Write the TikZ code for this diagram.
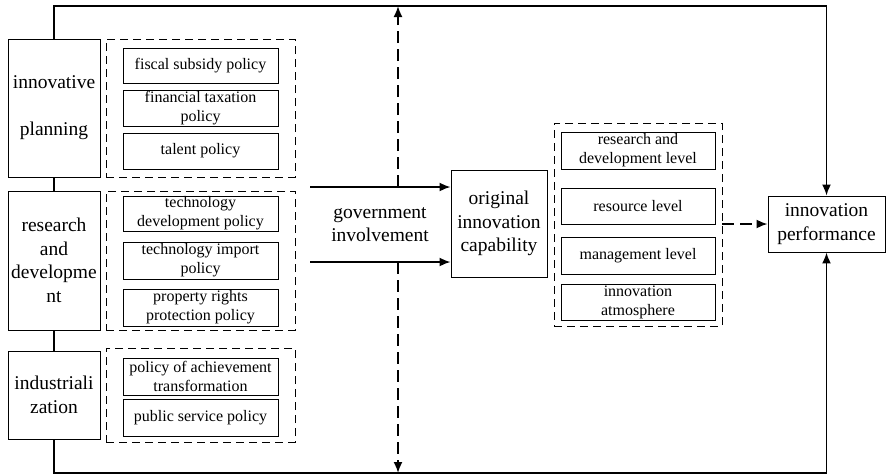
\documentclass[tikz,border=0pt]{standalone}
\usepackage{fontspec}
\setmainfont{Liberation Serif}
\usetikzlibrary{arrows.meta}
\begin{document}
\begin{tikzpicture}[x=1pt,y=-1pt,
  bigtext/.style={font=\fontsize{19.5}{23.5}\selectfont, align=center},
  smalltext/.style={font=\fontsize{16}{19}\selectfont, align=center},
  stage/.style={draw, line width=0.9pt, inner sep=0pt, minimum width=92pt, bigtext},
  policy/.style={draw, line width=0.9pt, inner sep=0pt, minimum width=155pt, minimum height=36pt, smalltext},
  level/.style={draw, line width=0.9pt, inner sep=0pt, minimum width=154pt, minimum height=36pt, smalltext},
  group/.style={draw, line width=0.9pt, dash pattern=on 8pt off 5pt, inner sep=0pt},
  link/.style={line width=1.8pt},
  flow/.style={line width=1.8pt, -{Latex[length=11pt,width=9pt]}},
  dflow/.style={line width=1.8pt, dash pattern=on 12pt off 6pt, -{Latex[length=11pt,width=9pt]}}]
\useasboundingbox (0,0) rectangle (886,475);

% policy stages
\node[stage, minimum height=138pt] (ip) at (54,108) {innovative\\[23.5pt]planning};
\node[stage, minimum height=139pt] (rd) at (54,260.5) {research\\and\\developme\\nt};
\node[stage, minimum height=88pt] (ind) at (54,395) {industriali\\zation};

% policy groups
\node[group, minimum width=189pt, minimum height=138pt] (g1) at (200.5,108) {};
\node[group, minimum width=189pt, minimum height=139pt] (g2) at (200.5,260.5) {};
\node[group, minimum width=189pt, minimum height=94pt] (g3) at (200.5,395) {};

\node[policy, minimum height=35pt] (p1) at (200.5,65.5) {fiscal subsidy policy};
\node[policy] (p2) at (200.5,108) {financial taxation\\policy};
\node[policy] (p3) at (200.5,151) {talent policy};
\node[policy, minimum height=35pt] (p4) at (200.5,213.5) {technology\\development policy};
\node[policy, minimum height=37pt] (p5) at (200.5,260.5) {technology import\\policy};
\node[policy, minimum height=37pt] (p6) at (200.5,307.5) {property rights\\protection policy};
\node[policy, minimum height=37pt] (p7) at (200.5,376.5) {policy of achievement\\transformation};
\node[policy, minimum height=37pt] (p8) at (200.5,417.5) {public service policy};

% government involvement
\node[bigtext] (gov) at (380,224.5) {government\\involvement};
\coordinate (a1s) at (310,187);
\coordinate (a2s) at (310,262);

% original innovation capability
\node[draw, line width=0.9pt, inner sep=0pt, minimum width=96pt, minimum height=107pt, bigtext] (oic) at (499,223.5) {original\\innovation\\capability};

\draw[flow] (a1s) -- (a1s -| oic.west);
\draw[flow] (a2s) -- (a2s -| oic.west);

% capability levels
\node[group, minimum width=168pt, minimum height=203pt] (g4) at (638,224.5) {};
\node[level, minimum height=37pt] (l1) at (638,150.5) {research and\\development level};
\node[level] (l2) at (638,206) {resource level};
\node[level, minimum height=37pt] (l3) at (638,255.5) {management level};
\node[level] (l4) at (638,302) {innovation\\atmosphere};

% innovation performance
\node[draw, line width=0.9pt, inner sep=0pt, minimum width=117pt, minimum height=56pt, bigtext] (perf) at (826.5,224) {innovation\\performance};

\draw[dflow] (g4.east |- perf.west) -- (perf.west);

% stage links
\draw[link] (ip.south) -- (rd.north);
\draw[link] (rd.south) -- (ind.north);

% feedback loops
\coordinate (tl) at (53,6);
\coordinate (bl) at (53,473);
\draw[link, -{Latex[length=11pt,width=9pt]}] (ip.north) -- (ip.north |- tl) -- (tl -| perf.north) -- (perf.north);
\draw[link, -{Latex[length=11pt,width=9pt]}] (ind.south) -- (ind.south |- bl) -- (bl -| perf.south) -- (perf.south);

% government involvement on the loops
\coordinate (up) at (398,6);
\coordinate (dn) at (398,473);
\draw[dflow] (up |- a1s) -- (up);
\draw[dflow] (dn |- a2s) -- (dn);
\end{tikzpicture}
\end{document}
